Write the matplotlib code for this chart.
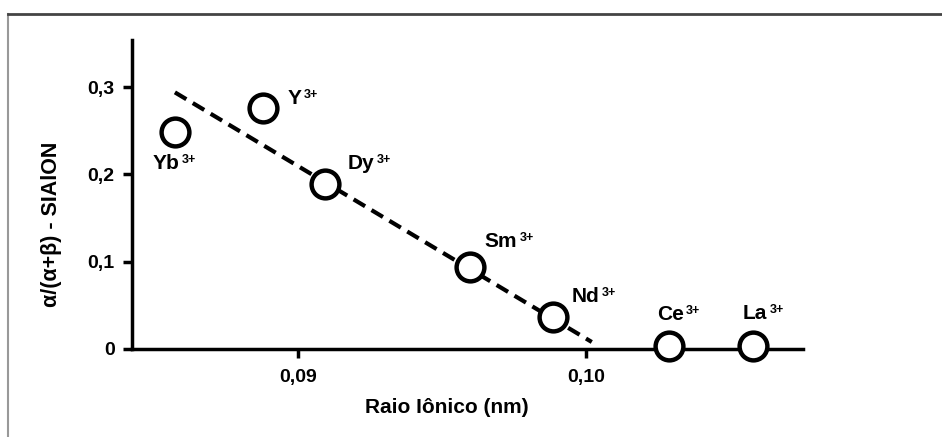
import matplotlib.pyplot as plt
from matplotlib.lines import Line2D

plt.rcParams['font.family'] = ['Liberation Sans', 'DejaVu Sans']
plt.rcParams['font.weight'] = 'bold'

# Dados
ions = ['Yb', 'Y', 'Dy', 'Sm', 'Nd', 'Ce', 'La']
raio = [0.08573, 0.08878, 0.09094, 0.09597, 0.09885, 0.10288, 0.10580]
fracao = [0.249, 0.276, 0.189, 0.094, 0.037, 0.003, 0.003]

# posição dos rótulos
rot_x = [0.08497, 0.08965, 0.09174, 0.09649, 0.09951, 0.10247, 0.10545]
rot_y = [0.213, 0.2875, 0.213, 0.1226, 0.0596, 0.039, 0.041]

# reta de tendência (tracejada)
reta_x = [0.08573, 0.1002]
reta_y = [0.294, 0.008]

fig = plt.figure(figsize=(9.42, 4.37), dpi=100)
ax = fig.add_axes([0.1401, 0.2014, 0.7123, 0.7071])

ax.plot(reta_x, reta_y, color='black', lw=3, linestyle=(0, (3.2, 1.8)))
ax.plot(raio, fracao, linestyle='none', marker='o', ms=20, mew=3.2,
        mfc='white', mec='black', clip_on=False, zorder=5)

for nome, x, y in zip(ions, rot_x, rot_y):
    t = ax.text(x, y, nome, fontsize=15, fontweight='bold',
                ha='left', va='center')
    ax.annotate('3+', xy=(1, 1), xycoords=t, xytext=(1.5, 0),
                textcoords='offset points', fontsize=9, fontweight='bold',
                ha='left', va='top')

ax.set_xlim(0.08424, 0.10753)
ax.set_ylim(0, 0.354)
ax.set_xticks([0.09, 0.10])
ax.set_xticklabels(['0,09', '0,10'])
ax.set_yticks([0, 0.1, 0.2, 0.3])
ax.set_yticklabels(['0', '0,1', '0,2', '0,3'])

for s in ['top', 'right']:
    ax.spines[s].set_visible(False)
for s in ['left', 'bottom']:
    ax.spines[s].set_linewidth(2.5)

ax.tick_params(direction='out', length=6.5, width=2.5, labelsize=14)
ax.tick_params(axis='x', pad=8)
ax.tick_params(axis='y', pad=6)
for lbl in ax.get_xticklabels() + ax.get_yticklabels():
    lbl.set_fontweight('bold')

ax.set_xlabel('Raio Iônico (nm)', fontsize=15, fontweight='bold')
ax.xaxis.set_label_coords(0.469, -0.16)
ax.set_ylabel('α/(α+β) - SIAlON', fontsize=15.5, fontweight='bold')
ax.yaxis.set_label_coords(-0.104, 0.405)

# moldura da figura escaneada
fig.add_artist(Line2D([0.0085, 0.0085], [0.0, 0.968], color='#999999', lw=1.5))
fig.add_artist(Line2D([0.0085, 1.0], [0.968, 0.968], color='#444444', lw=2))

fig.savefig('out.png', dpi=100)
